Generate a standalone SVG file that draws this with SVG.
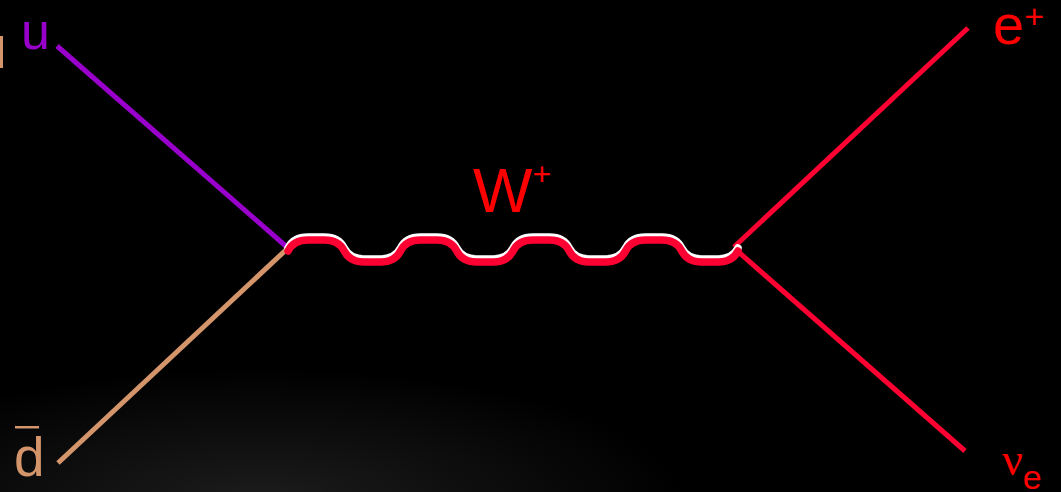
<svg xmlns="http://www.w3.org/2000/svg" width="1061" height="492" viewBox="0 0 1061 492">
<defs>
<radialGradient id="glow" cx="260" cy="500" r="330" gradientUnits="userSpaceOnUse" gradientTransform="translate(260 500) scale(1.3 0.4) translate(-260 -500)">
<stop offset="0" stop-color="#1c1c1c"/>
<stop offset="1" stop-color="#000"/>
</radialGradient>
<path id="wave" d="M288,251 C291,245 297,240 308,240 L324.25,240 C335.25,240 341.25,245 344.25,251 C347.25,257 353.25,262 364.25,262 L380.5,262 C391.5,262 397.5,257 400.5,251 C403.5,245 409.5,240 420.5,240 L436.75,240 C447.75,240 453.75,245 456.75,251 C459.75,257 465.75,262 476.75,262 L493,262 C504,262 510,257 513,251 C516,245 522,240 533,240 L549.25,240 C560.25,240 566.25,245 569.25,251 C572.25,257 578.25,262 589.25,262 L605.5,262 C616.5,262 622.5,257 625.5,251 C628.5,245 634.5,240 645.5,240 L661.75,240 C672.75,240 678.75,245 681.75,251 C684.75,257 690.75,262 701.75,262 L718,262 C729,262 735,257 738,251"/>
</defs>
<style>
.ln{fill:none;stroke-width:5;stroke-linecap:butt}
.lbl{font-family:"Liberation Sans",Arial,sans-serif}
</style>
<rect width="1061" height="492" fill="#000"/>
<rect width="1061" height="492" fill="url(#glow)"/>
<rect x="0" y="36" width="3" height="32" fill="#D4956B"/>
<g id="connectors">
<line class="ln" x1="57" y1="46" x2="288" y2="248" stroke="#9900CC"/>
<line class="ln" x1="58" y1="463" x2="288" y2="248" stroke="#D4956B"/>
<line class="ln" x1="968" y1="28" x2="734" y2="247" stroke="#FF0033"/>
<line class="ln" x1="965" y1="451" x2="734" y2="248" stroke="#FF0033"/>
<g id="w-boson">
<use href="#wave" transform="translate(0,-3)" fill="none" stroke="#FFFFFF" stroke-width="7.5" stroke-linecap="round"/>
<use href="#wave" fill="none" stroke="#FF0033" stroke-width="7.5" stroke-linecap="round"/>
</g>
</g>
<g id="node-u"><text class="lbl" x="21" y="49" font-size="52" fill="#9900CC">u</text></g>
<g id="node-dbar">
<text class="lbl" x="14" y="476" font-size="55" fill="#D4956B">d</text>
<rect x="15" y="426" width="24" height="2.5" fill="#D4956B"/>
</g>
<g id="node-W"><text class="lbl" x="473" y="212" font-size="63" fill="#FF0000">W<tspan font-size="32" dy="-27">+</tspan></text></g>
<g id="node-e"><text class="lbl" x="993" y="44" font-size="56" fill="#FF0000">e<tspan font-size="34" dy="-16">+</tspan></text></g>
<g id="node-nu"><text x="1002" y="475" font-family="'Liberation Serif','Times New Roman',serif" font-size="46" fill="#FF0000">ν<tspan font-family="'Liberation Sans',Arial,sans-serif" font-size="34" dy="14">e</tspan></text></g>
</svg>
